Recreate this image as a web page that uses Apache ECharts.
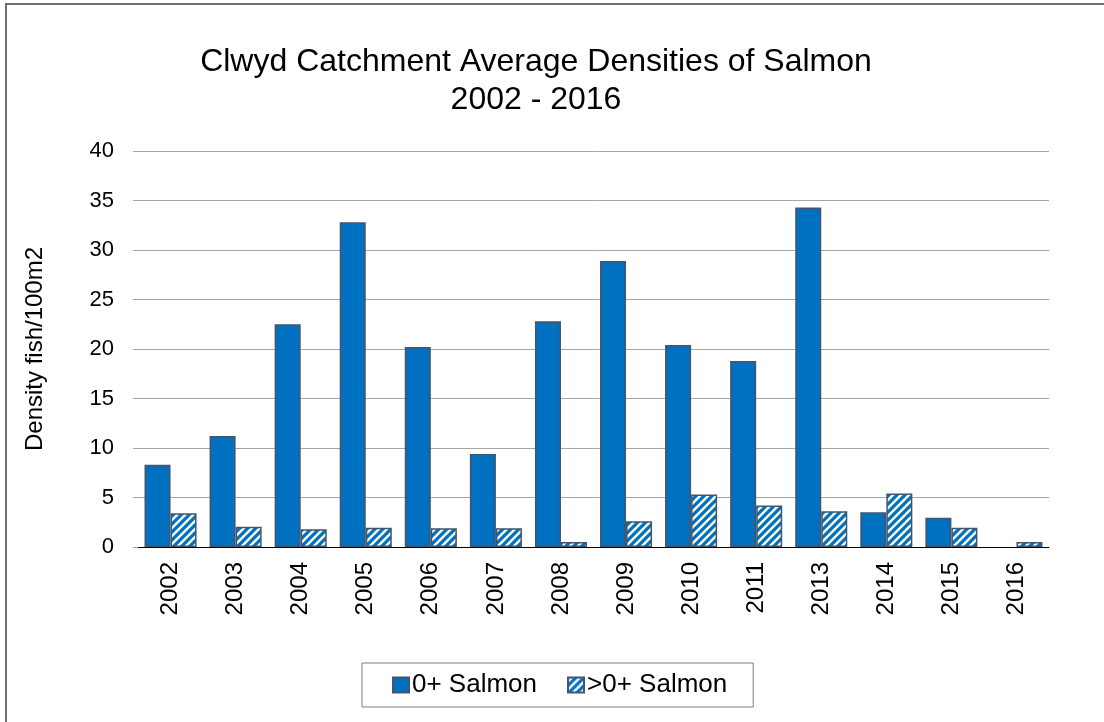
<!DOCTYPE html>
<html>
<head>
<meta charset="utf-8">
<script src="https://cdn.jsdelivr.net/npm/echarts@6/dist/echarts.min.js"></script>
<style>
html,body{margin:0;padding:0;background:#fff;}
#chart{width:1104px;height:722px;}
</style>
</head>
<body>
<div id="chart"></div>
<script>
const years = ['2002','2003','2004','2005','2006','2007','2008','2009','2010','2011','2013','2014','2015','2016'];
const salmon0 = [8.3, 11.2, 22.5, 32.8, 20.2, 9.4, 22.8, 28.9, 20.4, 18.8, 34.3, 3.5, 2.95, null];
const salmonGt0 = [3.4, 2.05, 1.8, 1.95, 1.9, 1.9, 0.5, 2.6, 5.3, 4.2, 3.6, 5.4, 1.95, 0.5];
const yTicks = [0, 5, 10, 15, 20, 25, 30, 35, 40];

const FONT = '"Liberation Sans", Arial, sans-serif';
const BLUE = '#0070C0';
const EDGE = '#44546A';

function makePattern() {
  const c = document.createElement('canvas');
  const s = 8;
  c.width = s; c.height = s;
  const g = c.getContext('2d');
  g.fillStyle = '#ffffff';
  g.fillRect(0, 0, s, s);
  g.strokeStyle = BLUE;
  g.lineWidth = 3.2;
  g.beginPath();
  g.moveTo(-2, s + 2); g.lineTo(s + 2, -2);
  g.moveTo(-s/2 - 2, s/2 + 2); g.lineTo(s/2 + 2, -s/2 - 2);
  g.moveTo(s/2 - 2, s * 1.5 + 2); g.lineTo(s * 1.5 + 2, s/2 - 2);
  g.stroke();
  return c;
}
const pattern = { image: makePattern(), repeat: 'repeat' };

const chart = echarts.init(document.getElementById('chart'), null, { renderer: 'canvas' });
chart.setOption({
  animation: false,
  backgroundColor: '#ffffff',
  textStyle: { fontFamily: FONT },
  title: {
    text: 'Clwyd Catchment Average Densities of Salmon\n2002 - 2016',
    left: 531, top: 38, textAlign: 'center',
    textStyle: { fontFamily: FONT, fontSize: 32, fontWeight: 'normal', color: '#000', lineHeight: 38 }
  },
  legend: {
    left: 362, top: 663,
    padding: [9, 26, 9, 30],
    icon: 'rect',
    itemWidth: 16, itemHeight: 15, itemGap: 30,
    borderColor: '#7f7f7f', borderWidth: 1,
    textStyle: { fontFamily: FONT, fontSize: 26, color: '#000', padding: [0, 0, 0, -2] },
    data: ['0+ Salmon', '>0+ Salmon']
  },
  grid: { left: 138, right: 55, top: 151, bottom: 175, containLabel: false },
  xAxis: {
    type: 'category', data: years,
    axisLine: { lineStyle: { color: '#000', width: 1 } },
    axisTick: { show: false },
    axisLabel: { rotate: 90, fontFamily: FONT, fontSize: 24, color: '#000', margin: 15 }
  },
  yAxis: {
    type: 'value', min: yTicks[0], max: yTicks[yTicks.length - 1], interval: yTicks[1] - yTicks[0],
    name: 'Density fish/100m2', nameLocation: 'middle', nameGap: 91, nameRotate: 90,
    nameTextStyle: { fontFamily: FONT, fontSize: 24, color: '#000' },
    axisLine: { show: false },
    axisTick: { show: true, inside: false, length: 5, lineStyle: { color: '#a6a6a6' } },
    axisLabel: { fontFamily: FONT, fontSize: 22, color: '#000', margin: 24 },
    splitLine: { lineStyle: { color: '#a6a6a6', width: 1 } }
  },
  series: [
    {
      name: '0+ Salmon', type: 'bar', data: salmon0,
      barGap: '0%', barCategoryGap: '20%',
      itemStyle: { color: BLUE, borderColor: EDGE, borderWidth: 1.5 }
    },
    {
      name: '>0+ Salmon', type: 'bar', data: salmonGt0,
      barGap: '0%', barCategoryGap: '20%',
      itemStyle: { color: pattern, borderColor: EDGE, borderWidth: 1.5 }
    }
  ],
  graphic: [
    { type: 'polyline', silent: true, shape: { points: [[6, 722], [6, 4], [1104, 4]] },
      style: { stroke: '#6f6f6f', lineWidth: 2, fill: null } }
  ]
});
</script>
</body>
</html>
